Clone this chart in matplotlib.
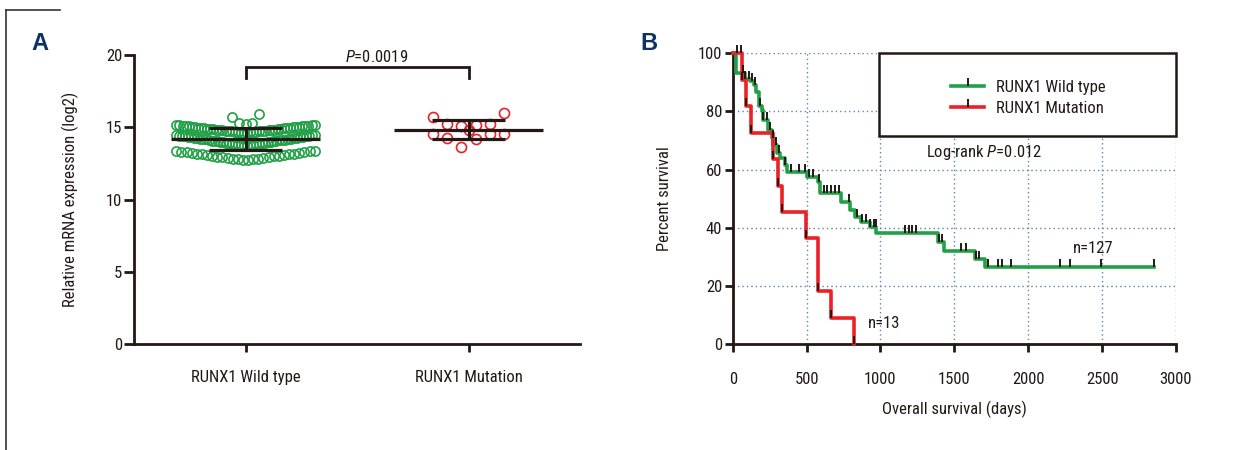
import numpy as np
import matplotlib
matplotlib.use('Agg')
import matplotlib.pyplot as plt
from matplotlib.lines import Line2D
from matplotlib.patches import Rectangle
from matplotlib import font_manager

names = {f.name for f in font_manager.fontManager.ttflist}
PREF = [n for n in ['Roboto Condensed', 'Liberation Sans Narrow', 'Open Sans Condensed']
        if n in names]
plt.rcParams['font.family'] = PREF + ['DejaVu Sans']
plt.rcParams['font.stretch'] = 'condensed'
MAIN = plt.rcParams['font.family'][0]
plt.rcParams['mathtext.fontset'] = 'custom'
plt.rcParams['mathtext.rm'] = MAIN + ':stretch=condensed'
plt.rcParams['mathtext.it'] = MAIN + ':italic:stretch=condensed'

# ---------------- data ----------------
groups = ['RUNX1 Wild type', 'RUNX1 Mutation']

wildtype_expr = [
    15.16, 15.15, 15.13, 15.14, 15.11, 15.12, 15.09, 15.08, 15.06, 15.07, 15.04, 15.03,
    15.01, 15.02, 14.99, 14.98, 14.96, 14.97, 14.94, 14.93, 14.91, 14.92, 14.89, 14.88,
    14.86, 14.87, 14.84, 14.83, 14.81, 14.82, 14.79, 14.78, 14.76, 14.77, 14.74, 14.73,
    14.71, 14.72, 14.69, 14.68, 14.66, 14.67, 14.64, 14.63, 14.62, 14.61,
    14.46, 14.45, 14.43, 14.42, 14.40, 14.39, 14.37, 14.36, 14.33, 14.34, 14.30, 14.31,
    14.27, 14.28, 14.24, 14.25, 14.21, 14.22, 14.18, 14.19, 14.15, 14.16, 14.11, 14.12,
    14.08, 14.09, 14.05, 14.06, 14.02, 14.03, 13.99, 13.98, 13.96, 13.95, 13.92, 13.93,
    13.89, 13.88, 13.85, 13.86, 13.82, 13.81, 13.78, 13.79, 13.75, 13.76, 13.72, 13.71,
    13.38, 13.37, 13.33, 13.32, 13.28, 13.27, 13.23, 13.22, 13.18, 13.17, 13.13, 13.12,
    13.08, 13.07, 13.03, 13.02, 12.98, 12.97, 12.93, 12.92, 12.88, 12.87, 12.83, 12.82,
    12.78, 12.77, 12.74, 12.73,
    15.92, 15.73, 15.31, 15.26, 15.22,
]
mutation_expr = [15.69, 15.96, 15.16, 15.09, 15.22, 15.25, 14.81,
                 14.51, 14.23, 13.65, 14.17, 14.51, 14.53]
p_value_A = '0.0019'

wt_step_days = [20, 83, 117, 144, 158, 180, 200, 207, 241, 263, 275, 297, 320, 354,
                365, 500, 579, 590, 730, 793, 826, 871, 928, 973, 1389, 1427, 1637, 1705]
wt_step_surv = [93.1, 91.1, 90.6, 89.1, 86.8, 81.7, 80.5, 77.0, 73.6, 70.8, 68.5, 65.6,
                63.9, 61.6, 59.0, 57.3, 55.8, 51.8, 49.0, 46.1, 43.8, 42.1, 40.4, 38.1,
                35.2, 32.1, 29.1, 26.4]
wt_last_day = 2853
wt_tick_days = [68, 83, 113, 128, 151, 185, 207, 234, 252, 270, 293, 315, 354, 392, 448,
                489, 515, 545, 586, 615, 640, 665, 692, 719, 790, 840, 872, 900, 932, 955,
                968, 1164, 1191, 1216, 1243, 1397, 1418, 1547, 1576, 1645, 1665, 1727,
                1795, 1824, 1885, 2216, 2284, 2493, 2853]

mut_step_days = [63, 90, 124, 275, 308, 335, 495, 578, 668, 821]
mut_step_surv = [90.9, 81.8, 72.7, 63.6, 54.5, 45.5, 36.4, 18.2, 9.1, 0.0]
mut_tick_days = [27, 58, 63, 90, 124, 275, 308, 335, 495, 578, 668, 821]

n_wt, n_mut = 127, 13
logrank_p = '0.012'

# ---------------- style ----------------
W, H = 1245, 450
K = '#231815'
GREEN = '#22a047'
RED = '#ec2027'
NAVY = '#0d3366'
FS = 12

fig = plt.figure(figsize=(W / 100, H / 100), dpi=100)


def row_offsets(values, edges, widths):
    v = np.asarray(values, float)
    off = np.zeros_like(v)
    rows = np.digitize(v, edges)
    for r in np.unique(rows):
        idx = np.where(rows == r)[0]
        n = len(idx)
        if n < 2:
            continue
        w = widths[r]
        slots = np.linspace(-w, w, n)
        slots = slots[np.argsort(np.abs(slots), kind='stable')]
        order = idx[np.argsort(v[idx], kind='stable')]
        off[order] = slots
    return off


# ---------------- panel A ----------------
axA = fig.add_axes([134 / W, 1 - 344 / H, 446 / W, 289 / H])
sets = [
    (wildtype_expr, GREEN, [13.55, 14.55, 15.19], [0.31, 0.31, 0.31, 0.06], 6.6),
    (mutation_expr, RED, [14.6, 15.0], [0.16, 0.0, 0.16], 7.2),
]
for i, (vals, col, edges, widths, ms) in enumerate(sets):
    x = i + row_offsets(vals, edges, widths)
    axA.plot(x, vals, 'o', mfc='none', mec=col, ms=ms, mew=1.2, zorder=2)
    m = np.mean(vals)
    s = np.std(vals, ddof=1)
    axA.hlines(m, i - 0.335, i + 0.335, color=K, lw=2.3, zorder=4)
    axA.vlines(i, m - s, m + s, color=K, lw=2.3, zorder=4)
    axA.hlines([m - s, m + s], i - 0.165, i + 0.165, color=K, lw=2.3, zorder=4)

axA.plot([0, 0, 1, 1], [18.4, 19.2, 19.2, 18.4], color=K, lw=2, clip_on=False,
         solid_joinstyle='miter')
axA.text(0.59, 19.5, '$P$=' + p_value_A, ha='center', va='baseline', fontsize=FS, color=K)

axA.set_xlim(-0.5, 1.5)
axA.set_ylim(0, 20)
axA.set_xticks([0, 1])
axA.set_xticklabels(groups)
axA.set_yticks([0, 5, 10, 15, 20])
axA.set_ylabel('Relative mRNA expression (log2)', fontsize=FS, color=K, labelpad=19)
for sp in ['top', 'right']:
    axA.spines[sp].set_visible(False)
for sp in ['left', 'bottom']:
    axA.spines[sp].set_linewidth(2)
    axA.spines[sp].set_color(K)
axA.tick_params(axis='y', length=7, width=2, pad=1.5, labelsize=FS, colors=K)
axA.tick_params(axis='x', length=6, width=2, pad=13, labelsize=FS, colors=K)

# ---------------- panel B ----------------
axB = fig.add_axes([732.7 / W, 1 - 344 / H, 443.3 / W, 290.7 / H])
axB.set_xlim(0, 3000)
axB.set_ylim(0, 100)
axB.set_xticks(np.arange(0, 3001, 500))
axB.set_yticks(np.arange(0, 101, 20))
axB.set_axisbelow(True)
axB.grid(True, linestyle=(0, (1, 2.2)), color='#5b84ad', lw=1.0)

wx = [0] + wt_step_days + [wt_last_day]
wy = [100] + wt_step_surv + [wt_step_surv[-1]]
mx = [0] + mut_step_days
my = [100] + mut_step_surv
axB.step(wx, wy, where='post', color=GREEN, lw=2.6, zorder=3, clip_on=False)
axB.step(mx, my, where='post', color=RED, lw=2.6, zorder=3, clip_on=False)


def level_at(days, step_days, step_surv):
    sd = np.asarray(step_days)
    ss = np.asarray(step_surv)
    out = []
    for d in days:
        k = np.searchsorted(sd, d, side='right')
        out.append(100.0 if k == 0 else ss[k - 1])
    return out


axB.plot(wt_tick_days, level_at(wt_tick_days, wt_step_days, wt_step_surv), ls='none',
         marker=2, ms=6, mew=1.4, mec=K, zorder=4, clip_on=False)
axB.plot(mut_tick_days, level_at(mut_tick_days, mut_step_days, mut_step_surv), ls='none',
         marker=2, ms=6, mew=1.4, mec=K, zorder=4, clip_on=False)

axB.add_patch(Rectangle((0.33, 0.716), 0.67, 0.284, transform=axB.transAxes,
                        fc='white', ec=K, lw=1.8, zorder=5, clip_on=False))
handles = [Line2D([], [], color=GREEN, lw=2.6, marker=2, ms=6, mew=1.4, mec=K),
           Line2D([], [], color=RED, lw=2.6, marker=2, ms=6, mew=1.4, mec=K)]
leg = axB.legend(handles, groups, loc='center left', bbox_to_anchor=(1478 / 3000, 0.846),
                 frameon=False, handlelength=2.0, handletextpad=0.7, labelspacing=0.35,
                 borderpad=0, borderaxespad=0, fontsize=FS, numpoints=1)
leg.set_zorder(6)
for t in leg.get_texts():
    t.set_color(K)

axB.text(1309, 66, 'Log-rank $P$=' + logrank_p, ha='left', va='center', fontsize=FS, color=K)
axB.text(2302, 33, 'n=%d' % n_wt, ha='left', va='center', fontsize=FS, color=K)
axB.text(915, 6.9, 'n=%d' % n_mut, ha='left', va='center', fontsize=FS, color=K)

axB.set_xlabel('Overall survival (days)', fontsize=FS, color=K, labelpad=10)
axB.set_ylabel('Percent survival', fontsize=FS, color=K, labelpad=19)
for sp in ['top', 'right']:
    axB.spines[sp].set_visible(False)
for sp in ['left', 'bottom']:
    axB.spines[sp].set_linewidth(2)
    axB.spines[sp].set_color(K)
axB.tick_params(axis='y', length=6, width=2, pad=1.5, labelsize=FS, colors=K)
axB.tick_params(axis='x', length=6, width=2, pad=14, labelsize=FS, colors=K)

fig.text(40 / W, 1 - 43 / H, 'A', fontsize=17, fontweight='bold', color=NAVY,
         ha='center', va='center', family=['Liberation Sans', 'DejaVu Sans'], stretch='normal')
fig.text(649 / W, 1 - 43 / H, 'B', fontsize=17, fontweight='bold', color=NAVY,
         ha='center', va='center', family=['Liberation Sans', 'DejaVu Sans'], stretch='normal')
fig.add_artist(Line2D([6 / W, 6 / W], [0, 1 - 10 / H], transform=fig.transFigure,
                      color='#333333', lw=1.2))
fig.add_artist(Line2D([6 / W, 60 / W], [1 - 10 / H, 1 - 10 / H], transform=fig.transFigure,
                      color='#333333', lw=1.2))

fig.savefig('out.png', dpi=100)
